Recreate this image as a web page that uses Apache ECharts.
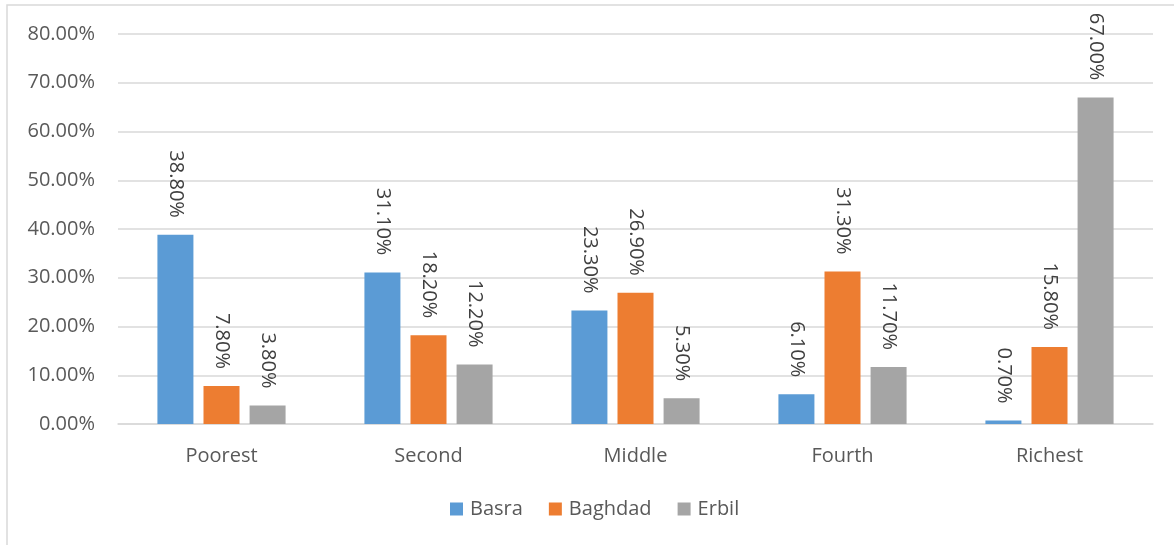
<!DOCTYPE html>
<html>
<head>
<meta charset="utf-8">
<script src="https://cdn.jsdelivr.net/npm/echarts@6/dist/echarts.min.js"></script>
<style>
html,body{margin:0;padding:0;background:#fff;}
#chart{width:1174px;height:545px;}
</style>
</head>
<body>
<div id="chart"></div>
<script>
const categories = ['Poorest', 'Second', 'Middle', 'Fourth', 'Richest'];
const basra = [38.8, 31.1, 23.3, 6.1, 0.7];
const baghdad = [7.8, 18.2, 26.9, 31.3, 15.8];
const erbil = [3.8, 12.2, 5.3, 11.7, 67.0];
const seriesNames = ['Basra', 'Baghdad', 'Erbil'];
const colors = ['#5B9BD5', '#ED7D31', '#A5A5A5'];

const font = '"Open Sans", sans-serif';
const chart = echarts.init(document.getElementById('chart'), null, {renderer: 'canvas'});

function mkSeries(name, data, color) {
  return {
    name: name,
    type: 'bar',
    data: data,
    barWidth: 36,
    barGap: '28%',
    itemStyle: {color: color},
    label: {
      show: true,
      position: 'top',
      distance: 17,
      rotate: -90,
      align: 'right',
      verticalAlign: 'middle',
      color: '#404040',
      fontFamily: font,
      fontSize: 20,
      formatter: p => p.value.toFixed(2) + '%'
    }
  };
}

chart.setOption({
  animation: false,
  backgroundColor: '#fff',
  textStyle: {fontFamily: font},
  graphic: [{
    type: 'rect',
    shape: {x: 7, y: 5, width: 1200, height: 600},
    style: {fill: 'none', stroke: '#D9D9D9', lineWidth: 1.5},
    silent: true,
    z: -10
  }],
  grid: {left: 118, right: 21, top: 34, bottom: 121, containLabel: false},
  legend: {
    data: seriesNames,
    bottom: 21,
    left: 445,
    itemWidth: 13,
    itemHeight: 13,
    itemGap: 26,
    icon: 'rect',
    textStyle: {color: '#595959', fontSize: 20, fontFamily: font, padding: [0, 0, 0, 2]}
  },
  xAxis: {
    type: 'category',
    data: categories,
    axisLine: {lineStyle: {color: '#D9D9D9', width: 1.5}},
    axisTick: {show: false},
    axisLabel: {color: '#595959', fontSize: 20, fontFamily: font, margin: 22}
  },
  yAxis: {
    type: 'value',
    min: 0,
    max: 80,
    interval: 10,
    axisLine: {show: false},
    axisTick: {show: false},
    splitLine: {lineStyle: {color: '#D9D9D9', width: 1.5}},
    axisLabel: {
      color: '#595959', fontSize: 20, fontFamily: font, margin: 23,
      formatter: v => v.toFixed(2) + '%'
    }
  },
  series: [
    mkSeries(seriesNames[0], basra, colors[0]),
    mkSeries(seriesNames[1], baghdad, colors[1]),
    mkSeries(seriesNames[2], erbil, colors[2])
  ]
});
</script>
</body>
</html>
